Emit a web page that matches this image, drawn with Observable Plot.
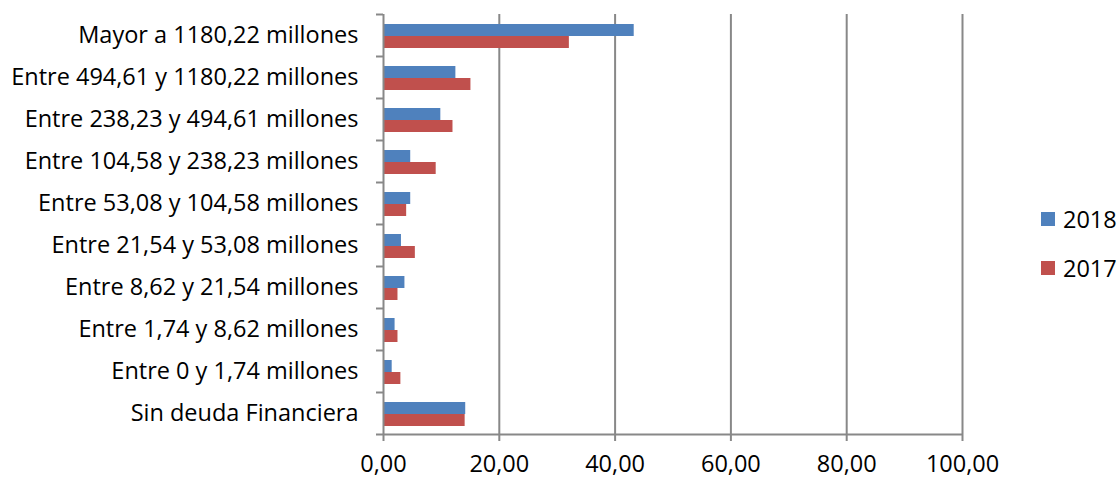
<!DOCTYPE html>
<html>
<head>
<meta charset="utf-8">
<script src="https://cdn.jsdelivr.net/npm/d3@7"></script>
<script src="https://cdn.jsdelivr.net/npm/@observablehq/plot@0.6"></script>
<style>
  html, body { margin: 0; padding: 0; background: #fff; }
  #wrap { position: relative; width: 1117px; height: 480px; font-family: "Open Sans", Lato, sans-serif; }
  #legend { position: absolute; left: 1041px; top: 194px; font-size: 23.5px; color: #000; }
  .item { display: flex; align-items: center; height: 49px; }
  .sw { width: 14px; height: 14px; margin-right: 8px; }
</style>
</head>
<body>
<div id="wrap"><div id="legend"></div></div>
<script>
const categories = [
  "Mayor a 1180,22 millones",
  "Entre 494,61 y 1180,22 millones",
  "Entre 238,23 y 494,61 millones",
  "Entre 104,58 y 238,23 millones",
  "Entre 53,08 y 104,58 millones",
  "Entre 21,54 y 53,08 millones",
  "Entre 8,62 y 21,54 millones",
  "Entre 1,74 y 8,62 millones",
  "Entre 0 y 1,74 millones",
  "Sin deuda Financiera"
];
const series = ["2018", "2017"];
const values2018 = [43.3, 12.5, 9.9, 4.7, 4.7, 3.1, 3.7, 2.0, 1.5, 14.2];
const values2017 = [32.1, 15.1, 12.0, 9.1, 4.0, 5.5, 2.5, 2.5, 3.0, 14.1];
const colors = ["#4F81BD", "#C0504D"];
const xTicks = [0, 20, 40, 60, 80, 100];

const rows = [];
categories.forEach((c, i) => {
  rows.push({cat: c, series: "2018", value: values2018[i]});
  rows.push({cat: c, series: "2017", value: values2017[i]});
});
const fmt = d => d.toFixed(2).replace(".", ",");
const gray = "#888888";

const chart = Plot.plot({
  width: 1117,
  height: 480,
  marginLeft: 383,
  marginRight: 155,
  marginTop: 14,
  marginBottom: 46,
  style: {fontFamily: "'Open Sans', Lato, sans-serif", fontSize: "23.5px", color: "#000", background: "#fff"},
  x: {domain: [0, 100], ticks: xTicks},
  y: {domain: categories, padding: 0},
  color: {domain: series, range: colors},
  marks: [
    Plot.ruleX(xTicks.slice(1), {stroke: gray, strokeWidth: 2}),
    Plot.barX(rows.filter(d => d.series === "2018"), {x: "value", y: "cat", fill: "series", insetTop: 10, insetBottom: 20}),
    Plot.barX(rows.filter(d => d.series === "2017"), {x: "value", y: "cat", fill: "series", insetTop: 22, insetBottom: 8}),
    Plot.ruleX([0], {stroke: gray, strokeWidth: 2}),
    Plot.ruleY(categories, {y: d => d, dy: -21, x1: 0, x2: 0, insetLeft: -7, stroke: gray, strokeWidth: 2}),
    Plot.ruleY([categories[categories.length - 1]], {y: d => d, dy: 21, x1: 0, x2: 100, insetLeft: -7, stroke: gray, strokeWidth: 2}),
    Plot.axisX({ticks: xTicks, tickFormat: fmt, tickSize: 7, tickPadding: 14, stroke: gray, strokeWidth: 2, strokeOpacity: 1, label: null, fontSize: 23.5}),
    Plot.axisY({tickSize: 0, tickPadding: 25, label: null, fontSize: 23.5})
  ]
});
document.getElementById("wrap").prepend(chart);

const legend = document.getElementById("legend");
series.forEach((s, i) => {
  const it = document.createElement("div");
  it.className = "item";
  it.innerHTML = `<div class="sw" style="background:${colors[i]}"></div><span>${s}</span>`;
  legend.appendChild(it);
});
</script>
</body>
</html>
